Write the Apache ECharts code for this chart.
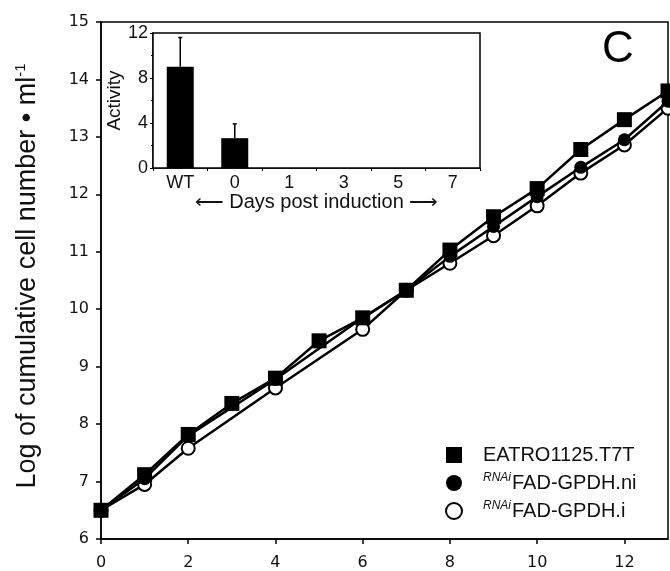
<!DOCTYPE html>
<html>
<head>
<meta charset="utf-8">
<script src="https://cdn.jsdelivr.net/npm/echarts@6/dist/echarts.min.js"></script>
<style>
  html, body { margin: 0; padding: 0; background: #fff; }
  #chart { width: 670px; height: 571px; }
</style>
</head>
<body>
<div id="chart"></div>
<script>
// main growth curves: [day, log cell number]
var t7tData = [[0, 6.5], [1, 7.12], [2, 7.82], [3, 8.36], [4, 8.8], [5, 9.45], [6, 9.85], [7, 10.33],
  [8, 11.03], [9, 11.61], [10, 12.1], [11, 12.78], [12, 13.3], [13, 13.8]]
var niData = [[0, 6.5], [1, 7.05], [2, 7.8], [4, 8.78], [6, 9.85], [7, 10.33], [8, 10.92],
  [9, 11.44], [10, 11.96], [11, 12.47], [12, 12.95], [13, 13.62]]
var iData = [[0, 6.5], [1, 6.95], [2, 7.58], [4, 8.63], [6, 9.65], [7, 10.33], [8, 10.8],
  [9, 11.28], [10, 11.8], [11, 12.37], [12, 12.86], [13, 13.5]]
var seriesNames = ['EATRO1125.T7T', 'RNAiFAD-GPDH.ni', 'RNAiFAD-GPDH.i']

// inset: activity bars
var insetCategories = ['WT', '0', '1', '3', '5', '7']
var activityValues = [9, 2.65, 0, 0, 0, 0]
var activityErrTop = [11.6, 3.92, null, null, null, null]

var chart = echarts.init(document.getElementById('chart'), null, { renderer: 'canvas' })

var tickFont = { fontFamily: 'DejaVu Sans', fontSize: 16, color: '#111' }
var lineStyle = { color: '#000', width: 2.5 }

var errData = []
activityErrTop.forEach(function (v, i) {
  if (v != null) errData.push([i, activityValues[i], v])
})

var option = {
  animation: false,
  backgroundColor: '#fff',
  grid: [
    { left: 101, top: 22, right: 2, bottom: 31, show: true, borderColor: '#000', borderWidth: 1.5, backgroundColor: 'transparent' },
    { left: 153, top: 33, width: 327, height: 135, show: true, borderColor: '#000', borderWidth: 1.5, backgroundColor: '#fff', z: 5 }
  ],
  xAxis: [
    {
      type: 'value', gridIndex: 0, min: 0, max: 13, interval: 2,
      axisLine: { show: true, lineStyle: { color: '#000', width: 1.5 } },
      axisTick: { show: true, length: 5, lineStyle: { color: '#000', width: 1.5 } },
      axisLabel: Object.assign({ margin: 16, showMaxLabel: false,
        formatter: function (v) { return v % 2 === 0 ? String(v) : '' } }, tickFont),
      splitLine: { show: false }
    },
    {
      type: 'category', gridIndex: 1, data: insetCategories,
      axisLine: { show: true, lineStyle: { color: '#000', width: 1.5 } },
      axisTick: { show: true, length: 3, lineStyle: { color: '#000' } },
      axisLabel: { fontFamily: 'Liberation Sans', fontSize: 18, color: '#111', margin: 6 },
      name: '\u27F5 Days post induction \u27F6',
      nameLocation: 'middle', nameGap: 21,
      nameTextStyle: { fontFamily: 'Liberation Sans', fontSize: 20, color: '#111' }
    }
  ],
  yAxis: [
    {
      type: 'value', gridIndex: 0, min: 6, max: 15, interval: 1,
      axisLine: { show: true, lineStyle: { color: '#000', width: 1.5 } },
      axisTick: { show: true, length: 5, lineStyle: { color: '#000', width: 1.5 } },
      axisLabel: Object.assign({ margin: 12 }, tickFont),
      splitLine: { show: false }
    },
    {
      type: 'value', gridIndex: 1, min: 0, max: 12, interval: 4,
      axisLine: { show: true, lineStyle: { color: '#000', width: 1.5 } },
      axisTick: { show: true, length: 3, lineStyle: { color: '#000' } },
      minorTick: { show: true, splitNumber: 2, length: 2, lineStyle: { color: '#000' } },
      axisLabel: { fontFamily: 'Liberation Sans', fontSize: 18, color: '#111', margin: 5 },
      splitLine: { show: false },
      name: 'Activity', nameLocation: 'middle', nameGap: 22,
      nameTextStyle: { fontFamily: 'Liberation Sans', fontSize: 19, color: '#111' }
    }
  ],
  legend: {
    orient: 'vertical', left: 440, top: 440,
    itemWidth: 16, itemHeight: 16, itemGap: 7,
    selectedMode: false,
    data: [
      { name: seriesNames[0], icon: 'rect' },
      { name: seriesNames[1], icon: 'circle' },
      { name: seriesNames[2], icon: 'circle' }
    ],
    formatter: function (name) {
      if (name.indexOf('RNAi') === 0) return '{sup|RNAi}{m|' + name.slice(4) + '}'
      return '{m|' + name + '}'
    },
    textStyle: {
      padding: [0, 0, 0, 16],
      rich: {
        m: { fontFamily: 'Liberation Sans', fontSize: 20, color: '#111', lineHeight: 22 },
        sup: { fontFamily: 'Liberation Sans', fontSize: 12, fontStyle: 'italic', color: '#111', verticalAlign: 'top', lineHeight: 22, padding: [0, 1, 8, 0] }
      }
    }
  },
  graphic: [
    {
      type: 'text', x: 28, y: 276, rotation: Math.PI / 2,
      style: {
        text: '{a|Log of cumulative cell number \u2022 ml}{s|-1}',
        x: 0, y: 0, align: 'center', verticalAlign: 'middle',
        rich: {
          a: { fontFamily: 'Liberation Sans', fontSize: 27, fill: '#111', lineHeight: 30 },
          s: { fontFamily: 'Liberation Sans', fontSize: 15, fill: '#111', verticalAlign: 'top', lineHeight: 30, padding: [0, 0, 12, 0] }
        }
      }
    },
    {
      type: 'text', x: 618, y: 50,
      style: { text: 'C', fontFamily: 'Liberation Sans', fontSize: 44, fill: '#000', align: 'center', verticalAlign: 'middle' }
    }
  ],
  series: [
    {
      name: seriesNames[2], type: 'line', xAxisIndex: 0, yAxisIndex: 0, data: iData,
      symbol: 'circle', symbolSize: 13, showAllSymbol: true,
      lineStyle: lineStyle,
      itemStyle: { color: '#fff', borderColor: '#000', borderWidth: 2 },
      z: 2
    },
    {
      name: seriesNames[1], type: 'line', xAxisIndex: 0, yAxisIndex: 0, data: niData,
      symbol: 'circle', symbolSize: 13, showAllSymbol: true,
      lineStyle: lineStyle,
      itemStyle: { color: '#000', borderColor: '#000', borderWidth: 0 },
      z: 3
    },
    {
      name: seriesNames[0], type: 'line', xAxisIndex: 0, yAxisIndex: 0, data: t7tData,
      symbol: 'rect', symbolSize: 15, showAllSymbol: true,
      lineStyle: lineStyle,
      itemStyle: { color: '#000', borderColor: '#000', borderWidth: 0 },
      z: 4
    },
    {
      type: 'bar', xAxisIndex: 1, yAxisIndex: 1, data: activityValues,
      barWidth: 27, itemStyle: { color: '#000' }, z: 6
    },
    {
      type: 'custom', xAxisIndex: 1, yAxisIndex: 1, data: errData, z: 7,
      renderItem: function (params, api) {
        var base = api.coord([api.value(0), api.value(1)])
        var top = api.coord([api.value(0), api.value(2)])
        return {
          type: 'group',
          children: [
            { type: 'line', shape: { x1: base[0], y1: base[1], x2: top[0], y2: top[1] }, style: { stroke: '#000', lineWidth: 1.5 } },
            { type: 'line', shape: { x1: top[0] - 2, y1: top[1], x2: top[0] + 2, y2: top[1] }, style: { stroke: '#000', lineWidth: 1.5 } }
          ]
        }
      }
    }
  ]
}

chart.setOption(option)
</script>
</body>
</html>
